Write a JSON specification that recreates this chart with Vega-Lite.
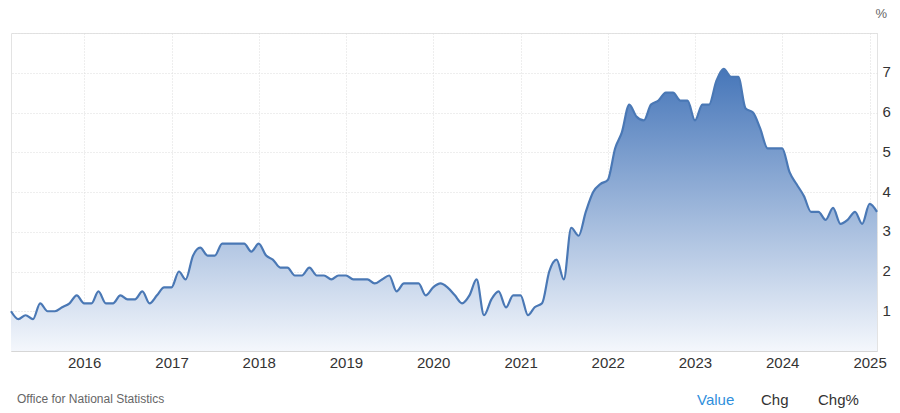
{
  "$schema": "https://vega.github.io/schema/vega-lite/v6.json",
  "width": 866,
  "height": 318,
  "autosize": {"type": "none"},
  "padding": {"left": 11, "top": 33, "right": 23, "bottom": 62},
  "background": "white",
  "config": {
    "view": {"stroke": "#e3e3e3", "strokeWidth": 1},
    "font": "Liberation Sans"
  },
  "title": {
    "text": "Office for National Statistics",
    "orient": "bottom",
    "anchor": "start",
    "frame": "group",
    "font": "Liberation Sans",
    "fontSize": 12,
    "fontWeight": "normal",
    "color": "#666666",
    "offset": 4,
    "dx": 6,
    "dy": -18
  },
  "layer": [
    {
      "data": {
        "values": [
          {"d": "2015-03-01", "v": 1.0}, {"d": "2015-04-01", "v": 0.8}, {"d": "2015-05-01", "v": 0.9}, {"d": "2015-06-01", "v": 0.8},
          {"d": "2015-07-01", "v": 1.2}, {"d": "2015-08-01", "v": 1.0}, {"d": "2015-09-01", "v": 1.0}, {"d": "2015-10-01", "v": 1.1},
          {"d": "2015-11-01", "v": 1.2}, {"d": "2015-12-01", "v": 1.4},
          {"d": "2016-01-01", "v": 1.2}, {"d": "2016-02-01", "v": 1.2}, {"d": "2016-03-01", "v": 1.5}, {"d": "2016-04-01", "v": 1.2},
          {"d": "2016-05-01", "v": 1.2}, {"d": "2016-06-01", "v": 1.4}, {"d": "2016-07-01", "v": 1.3}, {"d": "2016-08-01", "v": 1.3},
          {"d": "2016-09-01", "v": 1.5}, {"d": "2016-10-01", "v": 1.2}, {"d": "2016-11-01", "v": 1.4}, {"d": "2016-12-01", "v": 1.6},
          {"d": "2017-01-01", "v": 1.6}, {"d": "2017-02-01", "v": 2.0}, {"d": "2017-03-01", "v": 1.8}, {"d": "2017-04-01", "v": 2.4},
          {"d": "2017-05-01", "v": 2.6}, {"d": "2017-06-01", "v": 2.4}, {"d": "2017-07-01", "v": 2.4}, {"d": "2017-08-01", "v": 2.7},
          {"d": "2017-09-01", "v": 2.7}, {"d": "2017-10-01", "v": 2.7}, {"d": "2017-11-01", "v": 2.7}, {"d": "2017-12-01", "v": 2.5},
          {"d": "2018-01-01", "v": 2.7}, {"d": "2018-02-01", "v": 2.4}, {"d": "2018-03-01", "v": 2.3}, {"d": "2018-04-01", "v": 2.1},
          {"d": "2018-05-01", "v": 2.1}, {"d": "2018-06-01", "v": 1.9}, {"d": "2018-07-01", "v": 1.9}, {"d": "2018-08-01", "v": 2.1},
          {"d": "2018-09-01", "v": 1.9}, {"d": "2018-10-01", "v": 1.9}, {"d": "2018-11-01", "v": 1.8}, {"d": "2018-12-01", "v": 1.9},
          {"d": "2019-01-01", "v": 1.9}, {"d": "2019-02-01", "v": 1.8}, {"d": "2019-03-01", "v": 1.8}, {"d": "2019-04-01", "v": 1.8},
          {"d": "2019-05-01", "v": 1.7}, {"d": "2019-06-01", "v": 1.8}, {"d": "2019-07-01", "v": 1.9}, {"d": "2019-08-01", "v": 1.5},
          {"d": "2019-09-01", "v": 1.7}, {"d": "2019-10-01", "v": 1.7}, {"d": "2019-11-01", "v": 1.7}, {"d": "2019-12-01", "v": 1.4},
          {"d": "2020-01-01", "v": 1.6}, {"d": "2020-02-01", "v": 1.7}, {"d": "2020-03-01", "v": 1.6}, {"d": "2020-04-01", "v": 1.4},
          {"d": "2020-05-01", "v": 1.2}, {"d": "2020-06-01", "v": 1.4}, {"d": "2020-07-01", "v": 1.8}, {"d": "2020-08-01", "v": 0.9},
          {"d": "2020-09-01", "v": 1.3}, {"d": "2020-10-01", "v": 1.5}, {"d": "2020-11-01", "v": 1.1}, {"d": "2020-12-01", "v": 1.4},
          {"d": "2021-01-01", "v": 1.4}, {"d": "2021-02-01", "v": 0.9}, {"d": "2021-03-01", "v": 1.1}, {"d": "2021-04-01", "v": 1.2},
          {"d": "2021-05-01", "v": 2.0}, {"d": "2021-06-01", "v": 2.3}, {"d": "2021-07-01", "v": 1.8}, {"d": "2021-08-01", "v": 3.1},
          {"d": "2021-09-01", "v": 2.9}, {"d": "2021-10-01", "v": 3.5}, {"d": "2021-11-01", "v": 4.0}, {"d": "2021-12-01", "v": 4.2},
          {"d": "2022-01-01", "v": 4.3}, {"d": "2022-02-01", "v": 5.1}, {"d": "2022-03-01", "v": 5.5}, {"d": "2022-04-01", "v": 6.2},
          {"d": "2022-05-01", "v": 5.9}, {"d": "2022-06-01", "v": 5.8}, {"d": "2022-07-01", "v": 6.2}, {"d": "2022-08-01", "v": 6.3},
          {"d": "2022-09-01", "v": 6.5}, {"d": "2022-10-01", "v": 6.5}, {"d": "2022-11-01", "v": 6.3}, {"d": "2022-12-01", "v": 6.3},
          {"d": "2023-01-01", "v": 5.8}, {"d": "2023-02-01", "v": 6.2}, {"d": "2023-03-01", "v": 6.2}, {"d": "2023-04-01", "v": 6.8},
          {"d": "2023-05-01", "v": 7.1}, {"d": "2023-06-01", "v": 6.9}, {"d": "2023-07-01", "v": 6.9}, {"d": "2023-08-01", "v": 6.1},
          {"d": "2023-09-01", "v": 6.0}, {"d": "2023-10-01", "v": 5.6}, {"d": "2023-11-01", "v": 5.1}, {"d": "2023-12-01", "v": 5.1},
          {"d": "2024-01-01", "v": 5.1}, {"d": "2024-02-01", "v": 4.5}, {"d": "2024-03-01", "v": 4.2}, {"d": "2024-04-01", "v": 3.9},
          {"d": "2024-05-01", "v": 3.5}, {"d": "2024-06-01", "v": 3.5}, {"d": "2024-07-01", "v": 3.3}, {"d": "2024-08-01", "v": 3.6},
          {"d": "2024-09-01", "v": 3.2}, {"d": "2024-10-01", "v": 3.3}, {"d": "2024-11-01", "v": 3.5}, {"d": "2024-12-01", "v": 3.2},
          {"d": "2025-01-01", "v": 3.7}, {"d": "2025-02-01", "v": 3.5}
        ]
      },
      "mark": {
        "type": "area",
        "interpolate": "monotone",
        "opacity": 1,
        "fillOpacity": 1,
        "color": {
          "gradient": "linear",
          "x1": 0, "y1": 0, "x2": 0, "y2": 1,
          "stops": [
            {"offset": 0, "color": "#4676b9"},
            {"offset": 1, "color": "#f4f7fc"}
          ]
        },
        "line": {"color": "#4a78b5", "strokeWidth": 2.2}
      },
      "encoding": {
        "x": {
          "field": "d",
          "type": "temporal",
          "scale": {"type": "utc"},
          "axis": {
            "title": null,
            "format": "%Y",
            "formatType": "utc",
            "tickCount": {"interval": "year", "step": 1},
            "ticks": false,
            "domainColor": "#d6d6d6",
            "labelFontSize": 15,
            "labelColor": "#333333",
            "labelPadding": 4,
            "labelFlush": false,
            "labelOverlap": false,
            "grid": true,
            "gridColor": "#dcdcdc",
            "gridDash": [1, 2]
          }
        },
        "y": {
          "field": "v",
          "type": "quantitative",
          "scale": {"domain": [0, 8], "nice": false, "zero": true},
          "axis": {
            "orient": "right",
            "values": [1, 2, 3, 4, 5, 6, 7, 8],
            "labelExpr": "datum.value == 8 ? '' : datum.label",
            "ticks": false,
            "domain": false,
            "labelFontSize": 15,
            "labelColor": "#333333",
            "labelPadding": 5,
            "labelOffset": -1,
            "grid": true,
            "gridColor": "#dcdcdc",
            "gridDash": [1, 2],
            "title": "%",
            "titleAngle": 0,
            "titleX": -2,
            "titleY": -20,
            "titleAlign": "left",
            "titleBaseline": "middle",
            "titleFontWeight": "normal",
            "titleFontSize": 13,
            "titleColor": "#666666"
          }
        }
      }
    },
    {
      "data": {"values": [{"k": "Chg"}, {"k": "Chg%"}]},
      "mark": {"type": "point", "opacity": 0, "size": 0},
      "encoding": {
        "color": {
          "field": "k",
          "type": "nominal",
          "scale": {"range": ["#333333", "#333333"]},
          "legend": {
            "title": "Value",
            "orient": "none",
            "legendX": 686,
            "legendY": 359,
            "direction": "horizontal",
            "titleOrient": "left",
            "titleColor": "#2f8fdc",
            "titleFont": "Liberation Sans",
            "titleFontSize": 15,
            "titleFontWeight": "normal",
            "titlePadding": 11,
            "labelFont": "Liberation Sans",
            "labelFontSize": 15,
            "labelColor": "#333333",
            "labelOffset": 0,
            "columnPadding": 14,
            "symbolSize": 0,
            "symbolOpacity": 0,
            "symbolStrokeWidth": 0
          }
        }
      }
    }
  ]
}
